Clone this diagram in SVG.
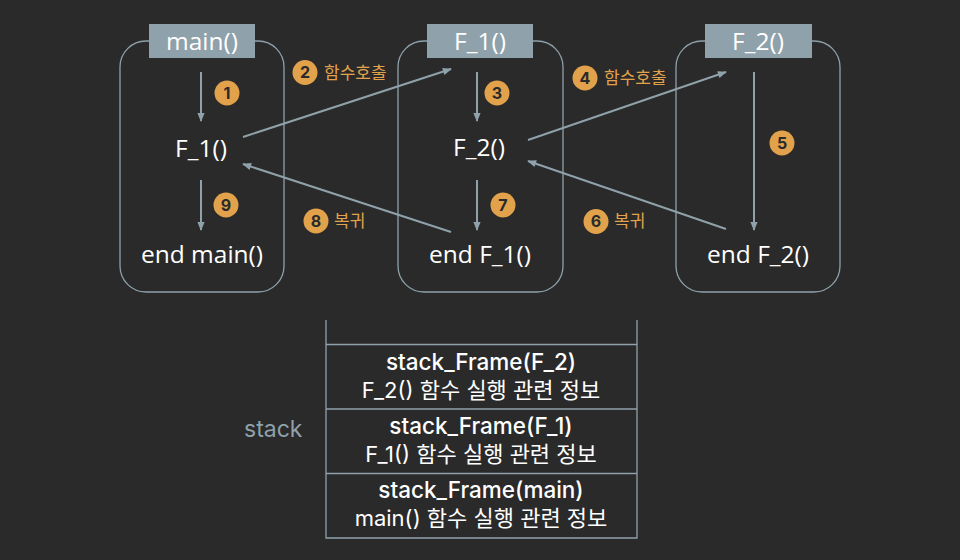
<svg xmlns="http://www.w3.org/2000/svg" width="960" height="560" viewBox="0 0 960 560">
<defs>
<marker id="ah" viewBox="0 0 10 10" refX="9" refY="5" markerWidth="5" markerHeight="4.5" orient="auto" markerUnits="strokeWidth">
<path d="M0,1 L10,5 L0,9 z" fill="#8fa1aa"/>
</marker>
<style>
.frame{fill:none;stroke:#8fa1aa;stroke-width:1.3}
.title{fill:#8fa1aa}
.tt{font-family:"Open Sans","Noto Sans",sans-serif;font-size:24.5px;fill:#ffffff;text-anchor:middle}
.nt{font-family:"Open Sans","Noto Sans",sans-serif;font-size:24.5px;fill:#ffffff;text-anchor:middle}
.conn{stroke:#8fa1aa;stroke-width:2;fill:none;marker-end:url(#ah)}
.badge{fill:#e1a24b}
.bn{font-family:"Inter","Noto Sans",sans-serif;font-size:16px;font-weight:700;fill:#2a2a2a;text-anchor:middle}
.lbl{font-family:"Noto Sans CJK KR","Noto Sans",sans-serif;font-size:17px;fill:#e1a24b}
.st{stroke:#8fa1aa;stroke-width:1.3;fill:none}
.s1{font-family:"Inter","Noto Sans CJK KR",sans-serif;font-size:22.5px;font-weight:500;fill:#ffffff;text-anchor:middle}
.s2{font-family:"Inter","Noto Sans CJK KR",sans-serif;font-size:22px;fill:#ffffff;text-anchor:middle}
.sl{font-family:"Inter","Noto Sans",sans-serif;font-size:23px;fill:#8fa1aa}
</style>
</defs>
<rect width="960" height="560" fill="#2a2a2a"/>

<g id="node-main">
<rect class="frame" x="120" y="41" width="164" height="251" rx="26"/>
<rect class="title" x="149" y="24" width="106" height="34"/>
<text class="tt" x="202" y="49.5">main()</text>
<text class="nt" x="201" y="157">F_1()</text>
<text class="nt" x="202" y="263">end main()</text>
</g>

<g id="node-f1">
<rect class="frame" x="398" y="41" width="165" height="251" rx="26"/>
<rect class="title" x="427" y="24" width="106" height="34"/>
<text class="tt" x="480" y="49.5">F_1()</text>
<text class="nt" x="479" y="156">F_2()</text>
<text class="nt" x="480" y="263">end F_1()</text>
</g>

<g id="node-f2">
<rect class="frame" x="676" y="41" width="164" height="251" rx="26"/>
<rect class="title" x="705" y="24" width="107" height="34"/>
<text class="tt" x="758" y="49.5">F_2()</text>
<text class="nt" x="758" y="263">end F_2()</text>
</g>

<g id="connectors">
<line class="conn" x1="201" y1="72" x2="201" y2="121"/>
<line class="conn" x1="201" y1="180" x2="201" y2="230"/>
<line class="conn" x1="477" y1="72" x2="477" y2="121"/>
<line class="conn" x1="477" y1="180" x2="477" y2="230"/>
<line class="conn" x1="754" y1="72" x2="754" y2="230"/>
<line class="conn" x1="243" y1="137" x2="451" y2="69"/>
<line class="conn" x1="451" y1="232" x2="243" y2="164"/>
<line class="conn" x1="528" y1="140" x2="726" y2="72"/>
<line class="conn" x1="726" y1="229" x2="528" y2="161"/>
</g>

<g id="badges">
<circle class="badge" cx="227" cy="93" r="12.5"/><text class="bn" x="227" y="98.8">1</text>
<circle class="badge" cx="305" cy="72.5" r="12.5"/><text class="bn" x="305" y="78.3">2</text>
<text class="lbl" x="324" y="79">함수호출</text>
<circle class="badge" cx="585" cy="78" r="12.5"/><text class="bn" x="585" y="83.8">4</text>
<text class="lbl" x="604" y="84">함수호출</text>
<circle class="badge" cx="497" cy="93" r="12.5"/><text class="bn" x="497" y="98.8">3</text>
<circle class="badge" cx="782" cy="143" r="12.5"/><text class="bn" x="782" y="148.8">5</text>
<circle class="badge" cx="596" cy="221.5" r="12.5"/><text class="bn" x="596" y="227.3">6</text>
<text class="lbl" x="614" y="227">복귀</text>
<circle class="badge" cx="503" cy="205" r="12.5"/><text class="bn" x="503" y="210.8">7</text>
<circle class="badge" cx="316" cy="221" r="12.5"/><text class="bn" x="316" y="226.8">8</text>
<text class="lbl" x="334" y="227">복귀</text>
<circle class="badge" cx="226" cy="205" r="12.5"/><text class="bn" x="226" y="210.8">9</text>
</g>

<g id="stack">
<path class="st" d="M326,320 V538 H637 V320"/>
<line class="st" x1="326" y1="344.5" x2="637" y2="344.5"/>
<line class="st" x1="326" y1="409" x2="637" y2="409"/>
<line class="st" x1="326" y1="473.5" x2="637" y2="473.5"/>
<text class="s1" x="481" y="370">stack_Frame(F_2)</text>
<text class="s2" x="481" y="398">F_2() 함수 실행 관련 정보</text>
<text class="s1" x="481" y="434">stack_Frame(F_1)</text>
<text class="s2" x="481" y="462">F_1() 함수 실행 관련 정보</text>
<text class="s1" x="481" y="498">stack_Frame(main)</text>
<text class="s2" x="481" y="526">main() 함수 실행 관련 정보</text>
<text class="sl" x="244" y="437">stack</text>
</g>
</svg>
